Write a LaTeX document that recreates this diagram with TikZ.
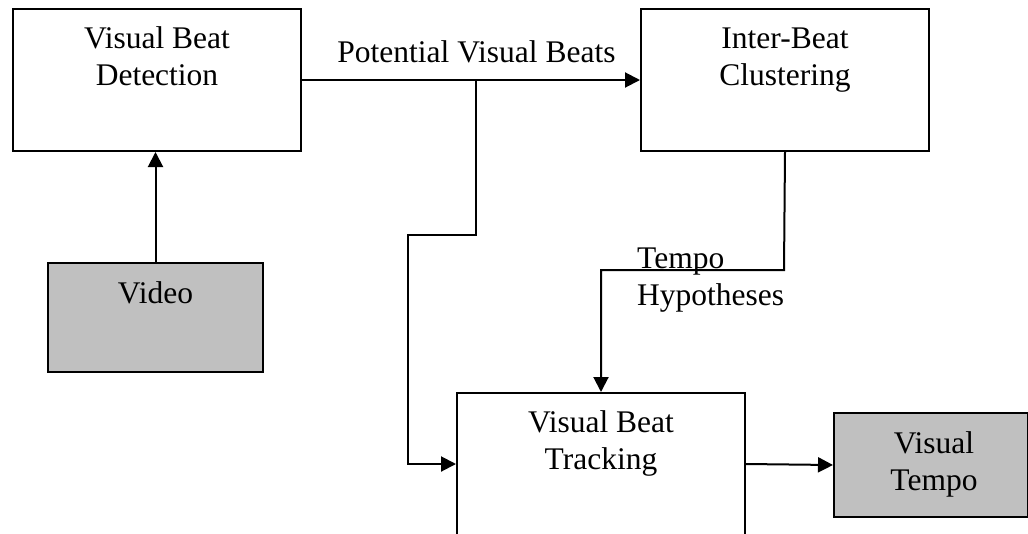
\documentclass[tikz,border=0pt]{standalone}
\usepackage{fontspec}
\setmainfont{Liberation Serif}
\usetikzlibrary{arrows.meta}
\definecolor{boxgray}{HTML}{C0C0C0}
\begin{document}
\begin{tikzpicture}[x=1pt,y=-1pt,
  box/.style={draw, line width=2pt, rectangle, anchor=north west, inner sep=0pt},
  gbox/.style={box, fill=boxgray},
  lbl/.style={font=\fontsize{31.5}{37}\selectfont, inner sep=0pt, anchor=north, align=center},
  arr/.style={line width=2pt, -{Triangle[length=15pt,width=15pt]}}]
\useasboundingbox (0,0) rectangle (1028,533);
\clip (0,0) rectangle (1028,533);
% boxes
\node[box, minimum width=288pt, minimum height=142pt] (vbd) at (12,8) {};
\node[box, minimum width=288pt, minimum height=142pt] (ibc) at (640,8) {};
\node[gbox, minimum width=215pt, minimum height=109pt] (vid) at (47,262) {};
\node[box, minimum width=288pt, minimum height=142pt] (vbt) at (456,392) {};
\node[gbox, minimum width=194pt, minimum height=104pt] (vt) at (833,412) {};
% box texts
\node[lbl] (vbdt) at ([yshift=-14.1pt]vbd.north) {\strut Visual Beat\\\strut Detection};
\node[lbl] (ibct) at ([yshift=-14.1pt]ibc.north) {\strut Inter-Beat\\\strut Clustering};
\node[lbl] (vidt) at ([yshift=-15.1pt]vid.north) {\strut Video};
\node[lbl] (vbtt) at ([yshift=-14.1pt]vbt.north) {\strut Visual Beat\\\strut Tracking};
\node[lbl] (vtt) at ([xshift=3pt,yshift=-15.1pt]vt.north) {\strut Visual\\\strut Tempo};
% connector labels
\node[lbl, anchor=base] (pvb) at (476.5,62) {Potential Visual Beats};
\node[lbl, anchor=north west, align=left] (th) at (637,242.1) {\strut Tempo\\\strut Hypotheses};
% connectors
\draw[arr] (vid.north) -- (vid.north |- vbd.south);
\draw[arr] (vbd.east) -- (ibc.west);
\coordinate (br) at (476,79);
\coordinate (b1) at (476,235);
\coordinate (b2) at (408,235);
\draw[arr] (br) -- (b1) -- (b2) |- (vbt.west);
\coordinate (t1) at (784,270);
\draw[arr] (ibc.south) -- (t1) -| (vbt.north);
\draw[arr] (vbt.east) -- (vt.west);
\end{tikzpicture}
\end{document}
